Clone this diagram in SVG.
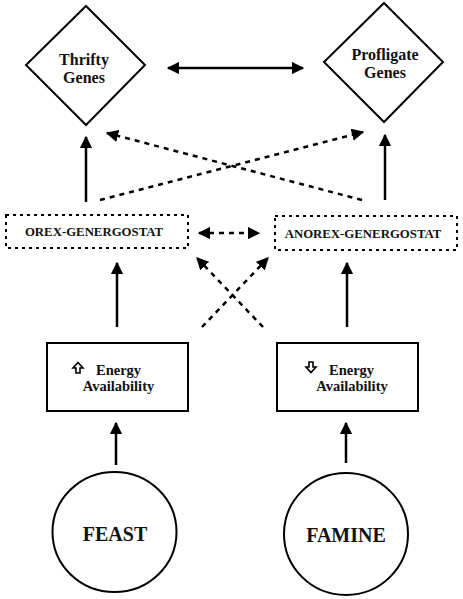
<svg xmlns="http://www.w3.org/2000/svg" width="463" height="599" viewBox="0 0 463 599">
<style>
.shape{fill:#fff;stroke:#000;stroke-width:2}
.dbox{fill:#fff;stroke:#000;stroke-width:2;stroke-dasharray:3,4}
.t{font-family:"Liberation Serif","Times New Roman",serif;font-weight:bold;fill:#111;text-anchor:middle}
.ts{font-family:"Liberation Serif","Times New Roman",serif;font-weight:bold;fill:#111;text-anchor:start}
.icon{fill:#fff;stroke:#000;stroke-width:1.6;stroke-linejoin:miter}
.c{stroke:#000;stroke-width:2.5;fill:none}
.d{stroke:#000;stroke-width:2.5;fill:none;stroke-dasharray:5,5}
</style>
<defs>
<marker id="ah" viewBox="0 0 10 10" refX="9" refY="5" markerWidth="5" markerHeight="5" orient="auto-start-reverse" markerUnits="strokeWidth">
<path d="M0,0 L10,5 L0,10 z" fill="#000"/>
</marker>
</defs>
<rect width="463" height="599" fill="#fff"/>
<g id="connectors">
<line class="c" x1="168" y1="68" x2="303" y2="68" marker-start="url(#ah)" marker-end="url(#ah)"/>
<line class="c" x1="86" y1="202" x2="86" y2="137" marker-end="url(#ah)"/>
<line class="c" x1="385" y1="200" x2="385" y2="135" marker-end="url(#ah)"/>
<line class="d" x1="100" y1="200" x2="363" y2="132" marker-end="url(#ah)"/>
<line class="d" x1="362" y1="200" x2="107" y2="133" marker-end="url(#ah)"/>
<line class="d" x1="199" y1="233" x2="259" y2="233" marker-start="url(#ah)" marker-end="url(#ah)"/>
<line class="c" x1="117" y1="327" x2="117" y2="263" marker-end="url(#ah)"/>
<line class="c" x1="347" y1="327" x2="347" y2="263" marker-end="url(#ah)"/>
<line class="d" x1="202" y1="327" x2="268" y2="258" marker-end="url(#ah)"/>
<line class="d" x1="263" y1="327" x2="197" y2="258" marker-end="url(#ah)"/>
<line class="c" x1="116" y1="465" x2="116" y2="423" marker-end="url(#ah)"/>
<line class="c" x1="346" y1="463" x2="346" y2="423" marker-end="url(#ah)"/>
</g>
<g id="thrifty">
<polygon class="shape" points="86,6 145,65 86,125 26,65"/>
<text class="t" x="84" y="65" font-size="16">Thrifty</text>
<text class="t" x="84" y="83" font-size="16">Genes</text>
</g>
<g id="profligate">
<polygon class="shape" points="384,3 443,62 384,122 324,62"/>
<text class="t" x="385" y="60" font-size="16">Profligate</text>
<text class="t" x="385" y="78" font-size="16">Genes</text>
</g>
<g id="orex">
<rect class="dbox" x="6" y="215" width="182" height="33"/>
<text class="t" x="94" y="236" font-size="12.8">OREX-GENERGOSTAT</text>
</g>
<g id="anorex">
<rect class="dbox" x="275" y="216" width="182" height="34"/>
<text class="t" x="363" y="238" font-size="12.8">ANOREX-GENERGOSTAT</text>
</g>
<g id="energy-up">
<rect class="shape" x="47" y="343" width="141" height="68"/>
<path class="icon" d="M78,362.5 L83,368 L80,368 L80,373 L76,373 L76,368 L73,368 Z"/>
<text class="ts" x="96" y="375" font-size="14.5">Energy</text>
<text class="t" x="118.5" y="391" font-size="14.5">Availability</text>
</g>
<g id="energy-down">
<rect class="shape" x="277" y="343" width="141" height="68"/>
<path class="icon" d="M311,372.5 L316,367 L313,367 L313,362 L309,362 L309,367 L306,367 Z"/>
<text class="ts" x="329" y="375" font-size="14.5">Energy</text>
<text class="t" x="352" y="391" font-size="14.5">Availability</text>
</g>
<g id="feast">
<ellipse class="shape" cx="114.5" cy="532" rx="62" ry="60"/>
<text class="t" x="115" y="541" font-size="20">FEAST</text>
</g>
<g id="famine">
<ellipse class="shape" cx="346" cy="534" rx="62" ry="61"/>
<text class="t" x="346" y="542" font-size="20">FAMINE</text>
</g>
</svg>
